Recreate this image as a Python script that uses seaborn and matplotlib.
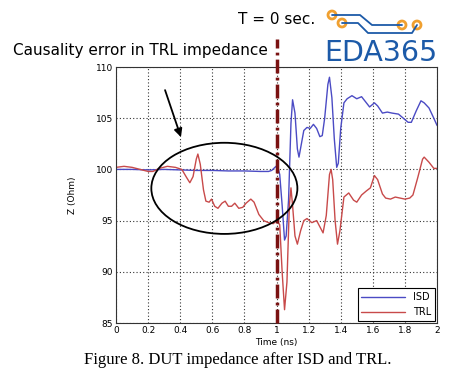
import numpy as np
import pandas as pd
import seaborn as sns
import matplotlib.pyplot as plt
from matplotlib.patches import Ellipse
from matplotlib.lines import Line2D

# ISD impedance trace (time in ns, Z in Ohm)
isd_t = [0, 0.1, 0.2, 0.3, 0.4, 0.5, 0.6, 0.7, 0.8, 0.9, 0.95, 0.97, 0.99, 1.005, 1.02,
         1.035, 1.05, 1.06, 1.075, 1.09, 1.10, 1.115, 1.13, 1.14, 1.155, 1.17, 1.19, 1.21,
         1.23, 1.25, 1.27, 1.285, 1.30, 1.32, 1.33, 1.345, 1.36, 1.375, 1.385, 1.40, 1.42,
         1.44, 1.47, 1.50, 1.53, 1.55, 1.58, 1.61, 1.63, 1.66, 1.69, 1.72, 1.76, 1.79, 1.82,
         1.84, 1.87, 1.90, 1.92, 1.95, 1.98, 2.0]
isd_z = [100.0, 100.0, 99.95, 100.0, 99.95, 99.9, 99.9, 99.85, 99.85, 99.8, 99.8, 99.9, 100.2,
         100.4, 99.5, 96.5, 93.1, 93.5, 97.0, 104.5, 106.8, 105.5, 102.0, 101.2, 102.5, 103.8,
         104.1, 104.0, 104.4, 104.0, 103.2, 103.3, 105.0, 108.3, 109.0, 107.0, 103.0, 100.2,
         100.6, 104.0, 106.5, 106.9, 107.2, 106.9, 107.1, 106.7, 106.1, 106.5, 106.2, 105.5,
         105.6, 105.5, 105.4, 105.0, 104.6, 104.6, 105.7, 106.7, 106.5, 106.0, 105.0, 104.3]

# TRL impedance trace
trl_t = [0, 0.05, 0.1, 0.15, 0.2, 0.23, 0.27, 0.32, 0.37, 0.41, 0.44, 0.46, 0.48, 0.50, 0.51,
         0.525, 0.545, 0.56, 0.58, 0.595, 0.615, 0.635, 0.66, 0.68, 0.70, 0.72, 0.74, 0.765,
         0.79, 0.81, 0.84, 0.86, 0.89, 0.92, 0.95, 0.98, 1.0, 1.02, 1.035, 1.05, 1.065, 1.08,
         1.09, 1.10, 1.115, 1.13, 1.15, 1.17, 1.19, 1.22, 1.25, 1.27, 1.29, 1.31, 1.33, 1.34,
         1.35, 1.365, 1.38, 1.395, 1.42, 1.45, 1.48, 1.50, 1.53, 1.56, 1.585, 1.61, 1.63, 1.66,
         1.68, 1.71, 1.74, 1.77, 1.80, 1.83, 1.85, 1.88, 1.91, 1.92, 1.95, 1.98, 2.0]
trl_z = [100.2, 100.3, 100.2, 100.0, 99.8, 99.8, 100.1, 100.3, 100.2, 100.0, 99.2, 98.7, 99.3,
         101.0, 101.5, 100.5, 98.0, 96.9, 96.8, 97.1, 96.4, 96.2, 96.7, 96.9, 96.4, 96.4, 96.7,
         96.2, 96.3, 96.7, 97.1, 96.8, 95.6, 95.0, 94.8, 94.7, 95.0, 94.6, 90.0, 86.3, 89.0,
         96.5, 98.2, 96.5, 93.5, 92.7, 94.0, 95.0, 95.2, 94.8, 95.0, 94.4, 93.8, 95.5, 99.5,
         100.0, 99.0, 95.0, 92.7, 94.0, 97.3, 97.7, 97.0, 96.8, 97.5, 97.9, 98.2, 99.4, 99.0,
         97.6, 97.2, 97.1, 97.3, 97.2, 97.1, 97.2, 97.5, 99.2, 101.0, 101.2, 100.7, 100.1, 100.1]

x_ticks = [0, 0.2, 0.4, 0.6, 0.8, 1, 1.2, 1.4, 1.6, 1.8, 2]
x_labels = ['0', '0.2', '0.4', '0.6', '0.8', '1', '1.2', '1.4', '1.6', '1.8', '2']
y_ticks = [85, 90, 95, 100, 105, 110]

df = pd.concat([
    pd.DataFrame({'Time': isd_t, 'Z': isd_z, 'Method': 'ISD'}),
    pd.DataFrame({'Time': trl_t, 'Z': trl_z, 'Method': 'TRL'}),
])

sns.set_style("white", {'text.color': 'black', 'xtick.color': 'black', 'ytick.color': 'black',
                        'axes.labelcolor': 'black'})
fig = plt.figure(figsize=(4.49, 3.86), dpi=100)
ax = fig.add_axes([0.2584, 0.1632, 0.7149, 0.6632])

sns.lineplot(data=df, x='Time', y='Z', hue='Method', sort=False, estimator=None,
             palette={'ISD': '#4b4bc4', 'TRL': '#c84a4a'}, linewidth=1.0, ax=ax)

ax.set_xlim(0, 2)
ax.set_ylim(85, 110)
ax.set_xticks(x_ticks)
ax.set_xticklabels(x_labels)
ax.set_yticks(y_ticks)
ax.tick_params(labelsize=6.5, length=2, direction='in', pad=2)
ax.grid(True, linestyle=(0, (1, 2)), color='#333333', linewidth=0.8)
for s in ax.spines.values():
    s.set_color('#333333')
    s.set_linewidth(0.8)
ax.set_xlabel('Time (ns)', fontsize=6.5, labelpad=2)
ax.set_ylabel('Z (Ohm)', fontsize=6.5, labelpad=14)

leg = ax.legend(loc='lower right', fontsize=7, fancybox=False, edgecolor='black',
                handlelength=4.5, borderaxespad=0.2, framealpha=1)
leg.get_frame().set_linewidth(0.8)

# T = 0 marker line
ax.plot([1, 1], [85, 112.7], color='#7a1212', linewidth=2.5,
        linestyle=(0, (4, 1.2, 0.8, 1.2)), clip_on=False, zorder=5)

# annotation ellipse and arrow
ax.add_patch(Ellipse((0.675, 98.15), 0.91, 8.9, fill=False, edgecolor='black', linewidth=1.3, zorder=6))
ax.annotate('', xy=(0.41, 102.9), xytext=(0.30, 108.0),
            arrowprops=dict(arrowstyle='-|>', color='black', lw=1.3, mutation_scale=12))

fig.text(13 / 449, 1 - 50 / 386, 'Causality error in TRL impedance', fontsize=11, va='center', ha='left')
fig.text(238 / 449, 1 - 20 / 386, 'T = 0 sec.', fontsize=11, va='center', ha='left')
fig.text(324 / 449, 1 - 53 / 386, 'EDA365', fontsize=20.5, color='#1c5aa8', va='center', ha='left')
fig.text(0.53, 1 - 360 / 386, 'Figure 8. DUT impedance after ISD and TRL.',
         fontsize=12, family='Liberation Serif', va='center', ha='center')

# logo circuit traces
def px(x, y):
    return x / 449, 1 - y / 386

for path in ([(332, 15), (360, 15), (372, 25), (402, 25)],
             [(342, 23), (358, 23), (368, 33), (412, 33), (417, 25)]):
    xs, ys = zip(*[px(*p) for p in path])
    fig.add_artist(Line2D(xs, ys, color='#1c5aa8', linewidth=1.3))
for c in [(332, 15), (342, 23), (402, 25), (417, 25)]:
    fig.add_artist(Ellipse(px(*c), 8 / 449, 8 / 386, transform=fig.transFigure, facecolor='white',
                           edgecolor='#f0a030', linewidth=2))

fig.savefig('out.png', dpi=100)
